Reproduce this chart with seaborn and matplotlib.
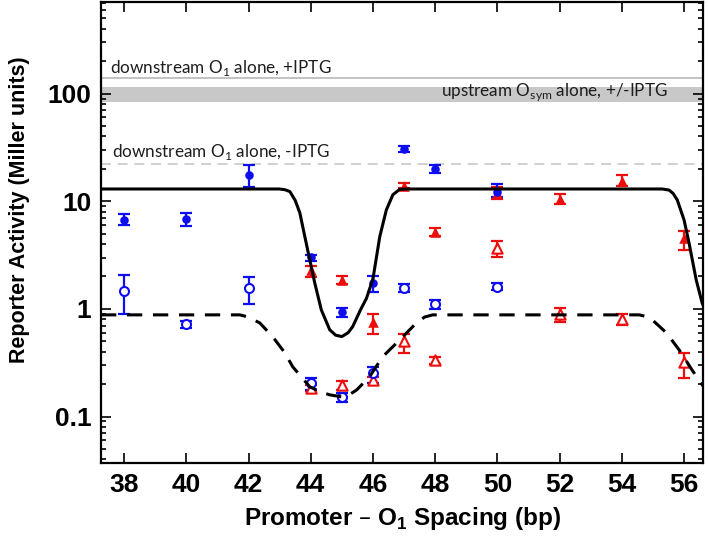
import numpy as np
import matplotlib
matplotlib.use("Agg")
import matplotlib.pyplot as plt
import seaborn as sns
from matplotlib.ticker import LogLocator, NullFormatter

# ---- values ----
# blue, filled circles
bf_x = [38, 40, 42, 44, 45, 46, 47, 48, 50]
bf_y = [6.7, 6.85, 17.5, 3.02, 0.94, 1.73, 30.6, 19.8, 12.3]
bf_lo = [5.98, 5.93, 13.7, 2.81, 0.84, 1.43, 28.7, 18.2, 10.9]
bf_hi = [7.57, 7.85, 21.7, 3.17, 1.03, 2.02, 32.6, 21.7, 14.5]

# blue, open circles
bo_x = [38, 40, 42, 44, 45, 46, 47, 48, 50]
bo_y = [1.48, 0.72, 1.56, 0.207, 0.151, 0.253, 1.58, 1.10, 1.61]
bo_lo = [0.89, 0.67, 1.11, 0.177, 0.135, 0.205, 1.45, 0.99, 1.50]
bo_hi = [2.07, 0.774, 1.99, 0.227, 0.165, 0.287, 1.70, 1.21, 1.73]

# red, filled triangles
rf_x = [44, 45, 46, 47, 48, 50, 52, 54, 56]
rf_y = [2.3, 1.86, 0.76, 13.96, 5.22, 11.9, 10.5, 15.5, 4.54]
rf_lo = [1.97, 1.71, 0.59, 13.2, 4.8, 10.6, 9.4, 13.9, 3.5]
rf_hi = [2.5, 2.02, 0.89, 14.7, 5.6, 13.7, 11.6, 17.5, 5.3]

# red, open triangles
ro_x = [44, 45, 46, 47, 48, 50, 52, 54, 56]
ro_y = [0.186, 0.197, 0.219, 0.50, 0.336, 3.66, 0.90, 0.80, 0.324]
ro_lo = [0.174, 0.177, 0.205, 0.388, 0.31, 3.06, 0.75, 0.71, 0.227]
ro_hi = [0.197, 0.216, 0.235, 0.586, 0.36, 4.28, 1.03, 0.90, 0.39]

# model curves
solid_x = [37.26, 43.0, 43.17, 43.33, 43.5, 43.65, 43.81, 43.97, 44.13,
           44.34, 44.61, 44.8, 45.0, 45.2, 45.35, 45.6, 45.79, 46.0,
           46.22, 46.43, 46.64, 46.86, 47.05, 55.3, 55.52, 55.65, 55.78,
           56.0, 56.16, 56.39, 56.58, 56.71]
solid_y = [13.0, 13.0, 12.8, 12.3, 10.2, 7.8, 4.7, 2.85, 1.74,
           0.98, 0.64, 0.57, 0.553, 0.6, 0.685, 0.98, 1.25, 1.9,
           4.7, 8.3, 11.5, 12.9, 13.0, 13.0, 12.7, 11.8, 10.3,
           6.7, 4.1, 1.86, 1.14, 0.92]
dash_x = [37.26, 41.72, 41.94, 42.36, 42.78, 43.17, 43.42, 43.97, 44.3,
          44.61, 45.02, 45.25, 45.48, 45.89, 46.31, 46.86, 47.40, 47.66,
          47.92, 48.46, 54.56, 54.78, 54.98, 55.43, 55.84, 56.26, 56.65]
dash_y = [0.88, 0.88, 0.848, 0.742, 0.55, 0.39, 0.29, 0.189, 0.17,
          0.159, 0.152, 0.16, 0.177, 0.234, 0.359, 0.515, 0.742, 0.84,
          0.88, 0.88, 0.88, 0.85, 0.79, 0.6, 0.417, 0.27, 0.185]

# reference levels
down_plus_iptg = 140.0
up_osym_band = (84.0, 116.0)
down_minus_iptg = 22.2

x_ticks = [38, 40, 42, 44, 46, 48, 50, 52, 54, 56]
y_ticks = [0.1, 1, 10, 100]
y_ticklabels = ["0.1", "1", "10", "100"]

BLUE = "#0d0df0"
RED = "#ee0d0d"

sns.set_theme(style="ticks")
plt.rcParams["font.family"] = ["Liberation Sans", "DejaVu Sans"]
plt.rcParams["font.weight"] = "bold"
for key in ["text.color", "axes.labelcolor", "xtick.color", "ytick.color"]:
    plt.rcParams[key] = "black"

fig = plt.figure(figsize=(7.08, 5.39), dpi=100)
ax = fig.add_axes([0.1427, 0.141, 0.8503, 0.8553])
ax.set_yscale("log")

# reference bands / lines
ax.axhspan(*up_osym_band, color="#c8c8c8", lw=0, zorder=0)
ax.axhline(down_plus_iptg, color="#bdbdbd", lw=1.3, zorder=0)
ax.axhline(down_minus_iptg, color="#c8c8c8", lw=1.2, dashes=(6, 4), zorder=0)

ann_font = dict(family=["Lato", "DejaVu Sans"], fontsize=12.3, fontweight="normal", color="#1e1e1e")
ax.text(37.55, 154, "downstream O$_\\mathregular{1}$ alone, +IPTG", ha="left", va="baseline", **ann_font)
ax.text(37.6, 25.9, "downstream O$_\\mathregular{1}$ alone, -IPTG", ha="left", va="baseline", **ann_font)
ax.text(55.49, 95, "upstream O$_\\mathregular{sym}$ alone, +/-IPTG", ha="right", va="baseline", **ann_font)


def errs(y, lo, hi):
    y, lo, hi = map(np.asarray, (y, lo, hi))
    return [y - lo, hi - y]


series = [
    (rf_x, rf_y, rf_lo, rf_hi, RED, "^", True, 58),
    (ro_x, ro_y, ro_lo, ro_hi, RED, "^", False, 55),
    (bf_x, bf_y, bf_lo, bf_hi, BLUE, "o", True, 38),
    (bo_x, bo_y, bo_lo, bo_hi, BLUE, "o", False, 42),
]
for xs, ys, lo, hi, c, m, filled, s in series:
    ax.errorbar(xs, ys, yerr=errs(ys, lo, hi), fmt="none", ecolor=c,
                elinewidth=1.6, capsize=4.5, capthick=1.6, zorder=2)
    sns.scatterplot(x=xs, y=ys, marker=m, s=s, ax=ax, zorder=3,
                    color=c if filled else "white", edgecolor=c,
                    linewidth=0 if filled else 1.5)

sns.lineplot(x=solid_x, y=solid_y, ax=ax, color="black", lw=2.2, sort=False, zorder=4)
sns.lineplot(x=dash_x, y=dash_y, ax=ax, color="black", lw=2.2, sort=False, zorder=4)
ax.lines[-1].set_dashes((5, 3.5))
for ln in ax.lines[-2:]:
    ln.set_solid_joinstyle("round")
    ln.set_dash_joinstyle("round")

ax.set_xlim(37.26, 56.61)
ax.set_ylim(0.037, 710)
ax.set_xticks(x_ticks)
ax.set_yticks(y_ticks, y_ticklabels)
ax.yaxis.set_minor_locator(LogLocator(base=10, subs=np.arange(2, 10)))
ax.yaxis.set_minor_formatter(NullFormatter())
ax.xaxis.set_minor_locator(plt.NullLocator())

ax.tick_params(which="both", direction="in", top=True, right=True, width=1.2, color="black")
ax.tick_params(which="major", length=7, labelsize=19, pad=7, labelcolor="black")
ax.tick_params(which="minor", length=3.8)
for lab in ax.get_xticklabels() + ax.get_yticklabels():
    lab.set_fontweight("bold")
for sp in ax.spines.values():
    sp.set_linewidth(1.6)
    sp.set_color("black")

ax.set_xlabel("Promoter – O$_\\mathregular{1}$ Spacing (bp)", fontsize=17.5, fontweight="bold", labelpad=6, color="black")
ax.set_ylabel("Reporter Activity (Miller units)", fontsize=15.5, fontweight="bold", color="black")
ax.yaxis.set_label_coords(-0.118, 0.549)
ax.grid(False)

fig.savefig("out.png", dpi=100)
